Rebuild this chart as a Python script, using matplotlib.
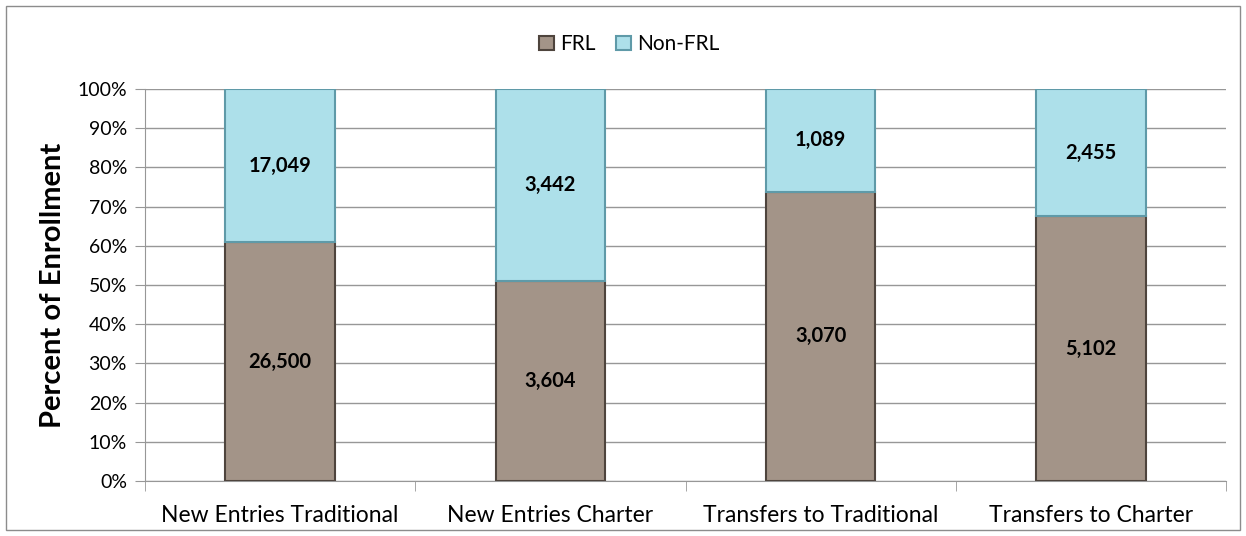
import matplotlib.pyplot as plt
from matplotlib.patches import Rectangle
from matplotlib.ticker import FuncFormatter

# date din grafic
categorii = ["New Entries Traditional", "New Entries Charter",
             "Transfers to Traditional", "Transfers to Charter"]
frl = [26500, 3604, 3070, 5102]
non_frl = [17049, 3442, 1089, 2455]

plt.rcParams['font.family'] = ['Lato', 'DejaVu Sans']

total = [a + b for a, b in zip(frl, non_frl)]
pct_frl = [a / t for a, t in zip(frl, total)]
pct_non = [b / t for b, t in zip(non_frl, total)]

fig = plt.figure(figsize=(12.46, 5.36), dpi=100)
ax = fig.add_axes([0.1164, 0.1026, 0.8676, 0.7313])

x = list(range(len(categorii)))
culoare_frl = '#a39488'
culoare_non = '#ade0ea'

b1 = ax.bar(x, pct_frl, width=0.405, color=culoare_frl, edgecolor='#4e443d',
            linewidth=1.5, label='FRL', zorder=3)
b2 = ax.bar(x, pct_non, width=0.405, bottom=pct_frl, color=culoare_non,
            edgecolor='#5f9aa8', linewidth=1.5, label='Non-FRL', zorder=3)

# etichete cu valori
for i in x:
    ax.text(i, pct_frl[i] / 2, f"{frl[i]:,}", ha='center', va='center',
            fontsize=14.5, fontweight='bold', zorder=4)
    ax.text(i, pct_frl[i] + pct_non[i] / 2, f"{non_frl[i]:,}", ha='center',
            va='center', fontsize=14.5, fontweight='bold', zorder=4)

ax.set_xlim(-0.5, 3.5)
ax.set_ylim(0, 1)
ax.set_yticks([i / 10 for i in range(11)])
ax.yaxis.set_major_formatter(FuncFormatter(lambda v, p: f"{v * 100:.0f}%"))
ax.grid(axis='y', color='#979797', linewidth=1.0, zorder=0)

ax.set_xticks(x)
ax.set_xticklabels(categorii, fontsize=16.5)
ax.set_xticks([-0.5, 0.5, 1.5, 2.5, 3.5], minor=True)
ax.tick_params(axis='x', which='major', length=0, pad=17)
ax.tick_params(axis='x', which='minor', length=7, color='#979797')
ax.tick_params(axis='y', length=7, color='#979797', labelsize=14, pad=6)

ax.set_ylabel('Percent of Enrollment', fontsize=21, fontweight='bold', labelpad=8)

for s in ['top', 'right']:
    ax.spines[s].set_visible(False)
for s in ['left', 'bottom']:
    ax.spines[s].set_color('#979797')

leg = fig.legend(handles=[b1, b2], loc='center', bbox_to_anchor=(0.505, 0.917),
                 ncol=2, frameon=False, fontsize=15, handlelength=0.7,
                 handleheight=0.7, columnspacing=1.0, handletextpad=0.3)

# chenarul exterior
fig.patches.append(Rectangle((0.005, 0.011), 0.99, 0.978, transform=fig.transFigure,
                             fill=False, edgecolor='#8c8c8c', linewidth=1.0))

fig.savefig('out.png', dpi=100)
